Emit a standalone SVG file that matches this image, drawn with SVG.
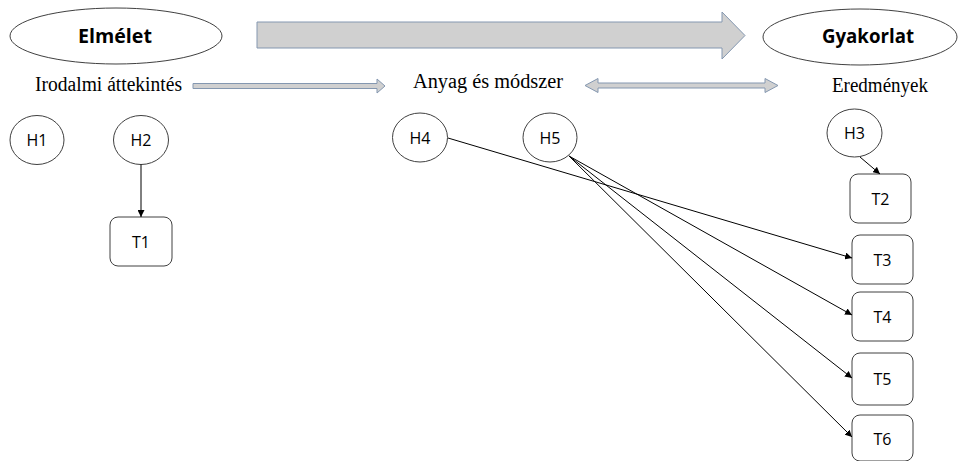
<svg xmlns="http://www.w3.org/2000/svg" width="961" height="461" viewBox="0 0 961 461">
<style>
.node ellipse,.node rect{fill:#fff;stroke:#404040;stroke-width:1}
.t{font-family:"Open Sans","Liberation Sans",sans-serif;font-size:16px;fill:#000;text-anchor:middle}
.big{font-family:"Open Sans","Liberation Sans",sans-serif;font-size:20px;font-weight:bold;fill:#000;text-anchor:middle}
.s{font-family:"Liberation Serif",serif;font-size:20px;fill:#000}
.fat{fill:#d0d0d0;stroke:#8497b0;stroke-width:1}
.edge{stroke:#000;stroke-width:1;fill:none;marker-end:url(#ah)}
</style>
<defs>
<marker id="ah" viewBox="0 0 10 10" refX="10" refY="5" markerWidth="7" markerHeight="7" markerUnits="userSpaceOnUse" orient="auto">
<path d="M0,0 L10,5 L0,10 z" fill="#000"/>
</marker>
</defs>
<rect width="961" height="461" fill="#fff"/>
<g id="elmelet" class="node"><ellipse cx="116" cy="36" rx="106" ry="28"/><text class="big" x="115" y="43" textLength="74" lengthAdjust="spacingAndGlyphs">Elmélet</text></g>
<g id="gyakorlat" class="node"><ellipse cx="860" cy="37" rx="97" ry="28"/><text class="big" x="868" y="43" textLength="92" lengthAdjust="spacingAndGlyphs">Gyakorlat</text></g>
<g id="big-arrow"><path class="fat" d="M257,22 L722,22 L722,12 L745,35.5 L722,59 L722,48 L257,48 z"/></g>
<g id="labels">
<text class="s" x="35" y="91" textLength="147" lengthAdjust="spacingAndGlyphs">Irodalmi áttekintés</text>
<text class="s" x="413" y="88" textLength="150" lengthAdjust="spacingAndGlyphs">Anyag és módszer</text>
<text class="s" x="832" y="92" textLength="96" lengthAdjust="spacingAndGlyphs">Eredmények</text>
</g>
<g id="arrow1"><path class="fat" d="M193,83.5 L377,83.5 L377,79 L385,86 L377,93 L377,88.5 L193,88.5 z"/></g>
<g id="arrow2"><path class="fat" d="M585,85.5 L598,78.5 L598,83 L765,83 L765,78.5 L778,85.5 L765,92.5 L765,88 L598,88 L598,92.5 z"/></g>
<g id="H1" class="node"><ellipse cx="37" cy="140" rx="27" ry="24.5"/><text class="t" x="37" y="146">H1</text></g>
<g id="H2" class="node"><ellipse cx="141" cy="140" rx="27.5" ry="24.5"/><text class="t" x="141" y="146">H2</text></g>
<g id="T1" class="node"><rect x="110" y="217" width="62" height="49" rx="8"/><text class="t" x="141" y="247.5">T1</text></g>
<g id="H4" class="node"><ellipse cx="420" cy="137.5" rx="27.5" ry="24.5"/><text class="t" x="420" y="143.5">H4</text></g>
<g id="H5" class="node"><ellipse cx="550" cy="137.5" rx="27" ry="24.5"/><text class="t" x="550" y="143.5">H5</text></g>
<g id="H3" class="node"><ellipse cx="854.5" cy="133" rx="27.5" ry="24"/><text class="t" x="854.5" y="139">H3</text></g>
<g id="T2" class="node"><rect x="850" y="174" width="61" height="49" rx="8"/><text class="t" x="880.5" y="204.5">T2</text></g>
<g id="T3" class="node"><rect x="852" y="235" width="61" height="49" rx="8"/><text class="t" x="882.5" y="265.5">T3</text></g>
<g id="T4" class="node"><rect x="852" y="292" width="61" height="49" rx="8"/><text class="t" x="882.5" y="322.5">T4</text></g>
<g id="T5" class="node"><rect x="852" y="353" width="61" height="52" rx="8"/><text class="t" x="882.5" y="385">T5</text></g>
<g id="T6" class="node"><rect x="852" y="415" width="61" height="46" rx="8"/><text class="t" x="882.5" y="445">T6</text></g>
<g id="connectors">
<line class="edge" x1="141" y1="164.5" x2="141" y2="217"/>
<line class="edge" x1="860" y1="157" x2="880" y2="174"/>
<line class="edge" x1="448" y1="138" x2="852" y2="258"/>
<line class="edge" x1="569" y1="156" x2="852" y2="315"/>
<line class="edge" x1="569" y1="156" x2="852" y2="378"/>
<line class="edge" x1="569" y1="156" x2="852" y2="437"/>
</g>
</svg>
